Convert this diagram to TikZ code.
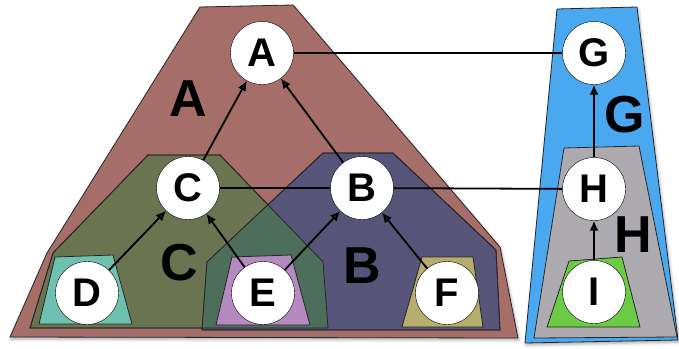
\documentclass[tikz,border=0pt]{standalone}
\usepackage{fontspec}
\setmainfont{Liberation Sans}
\usetikzlibrary{arrows.meta,shadows.blur}
\definecolor{regA}{RGB}{166,110,105}
\definecolor{regC}{RGB}{106,116,80}
\definecolor{regB}{RGB}{86,84,120}
\definecolor{regCB}{RGB}{78,110,92}
\definecolor{regD}{RGB}{110,192,176}
\definecolor{regE}{RGB}{180,138,192}
\definecolor{regF}{RGB}{183,174,110}
\definecolor{regG}{RGB}{74,168,240}
\definecolor{regH}{RGB}{173,171,176}
\definecolor{regI}{RGB}{108,203,69}
\tikzset{
  vertex/.style={circle,draw,fill=white,minimum size=63pt,inner sep=0pt,
    font=\fontsize{40}{40}\selectfont\bfseries},
  region/.style={draw=black!85,line width=0.8pt,line join=round},
  shade/.style={blur shadow={shadow xshift=1pt,shadow yshift=-2pt,
    shadow blur radius=3pt,shadow opacity=35}},
  biglabel/.style={font=\fontsize{52}{52}\selectfont\bfseries},
  treeedge/.style={-{Latex[length=10pt,width=9pt]},line width=1.8pt},
  linkedge/.style={line width=1.8pt}
}
\begin{document}
\begin{tikzpicture}[x=1pt,y=-1pt]
  \useasboundingbox (0,0) rectangle (679,348);

  % outer regions
  \path[region,fill=regA,shade] (200,7) -- (293,5) -- (500,247) -- (518,338)
    -- (10,337) -- (47,253) -- cycle;
  \path[region,fill=regG,shade] (557,9) -- (637,7) -- (678,340) -- (525,343) -- cycle;

  % inner regions
  \path[region,fill=regC] (148,155) -- (220,155) -- (323,262) -- (328,328)
    -- (30,328) -- (53,253) -- cycle;
  \path[region,fill=regB] (323,153) -- (393,153) -- (496,250) -- (500,330)
    -- (202,330) -- (207,262) -- cycle;
  \begin{scope}
    \clip (148,155) -- (220,155) -- (323,262) -- (328,328) -- (30,328) -- (53,253) -- cycle;
    \fill[regCB] (323,153) -- (393,153) -- (496,250) -- (500,330)
      -- (202,330) -- (207,262) -- cycle;
  \end{scope}
  \draw[region] (148,155) -- (220,155) -- (323,262) -- (328,328)
    -- (30,328) -- (53,253) -- cycle;
  \draw[region] (323,153) -- (393,153) -- (496,250) -- (500,330)
    -- (202,330) -- (207,262) -- cycle;
  \path[region,fill=regH] (564,148) -- (639,146) -- (677,337) -- (534,338) -- cycle;

  % leaf regions
  \path[region,fill=regD] (55,257) -- (113,255) -- (132,324) -- (39,324) -- cycle;
  \path[region,fill=regE] (232,257) -- (291,255) -- (310,325) -- (216,325) -- cycle;
  \path[region,fill=regF] (422,257) -- (473,257) -- (483,327) -- (402,327) -- cycle;
  \path[region,fill=regI] (569,261) -- (622,257) -- (640,327) -- (547,327) -- cycle;

  % region labels
  \node[biglabel] (labA) at (188,99) {A};
  \node[biglabel] (labC) at (179,263) {C};
  \node[biglabel] (labB) at (362,266) {B};
  \node[biglabel] (labG) at (625,115) {G};
  \node[biglabel] (labH) at (633,235) {H};

  % vertices
  \node[vertex] (A) at (262,53) {A};
  \node[vertex] (C) at (188,188) {C};
  \node[vertex] (B) at (362,188) {B};
  \node[vertex] (D) at (87,293) {D};
  \node[vertex] (E) at (263,293) {E};
  \node[vertex] (F) at (447,293) {F};
  \node[vertex] (G) at (594,53) {G};
  \node[vertex] (H) at (594,189) {H};
  \node[vertex] (I) at (594,292) {I};

  \draw[treeedge] (C) -- (A);
  \draw[treeedge] (B) -- (A);
  \draw[treeedge] (D) -- (C);
  \draw[treeedge] (E) -- (C);
  \draw[treeedge] (E) -- (B);
  \draw[treeedge] (F) -- (B);
  \draw[treeedge] (H) -- (G);
  \draw[treeedge] (I) -- (H);

  \draw[linkedge] (A) -- (G);
  \draw[linkedge] (C) -- (B);
  \draw[linkedge] (B) -- (H);
\end{tikzpicture}
\end{document}
